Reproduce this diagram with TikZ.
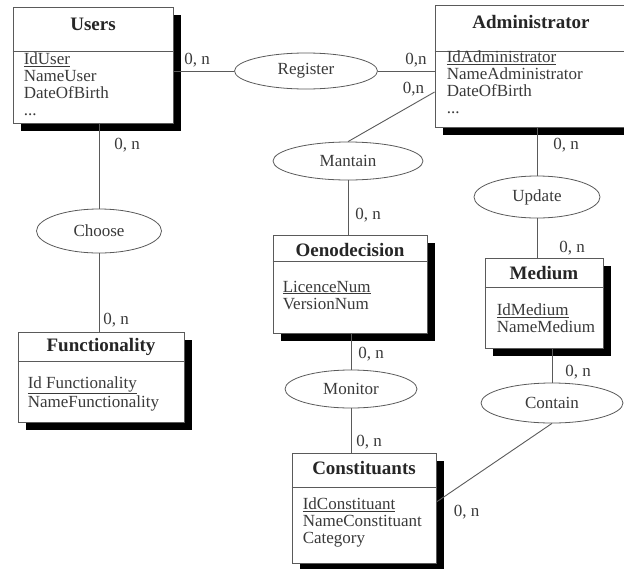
\documentclass[tikz,border=0pt]{standalone}
\usepackage{fontspec}
\setmainfont{Liberation Serif}
\usetikzlibrary{positioning,fit,shapes.geometric,shadows}
\definecolor{ink}{HTML}{3a3a3a}
\definecolor{edge}{HTML}{5a5a5a}

\begin{document}
\begin{tikzpicture}[x=1pt, y=-1pt, font=\fontsize{17}{17}\selectfont, text=ink,
  entity/.style={draw=edge, fill=white, inner sep=0pt, line width=0.8pt,
    drop shadow={shadow xshift=8pt, shadow yshift=-8pt, opacity=1, fill=black}},
  enttitle/.style={font=\fontsize{19}{19}\selectfont\bfseries, inner sep=0pt, text=black!85},
  attrs/.style={anchor=north west, align=left, inner sep=0pt},
  sep/.style={draw=edge, line width=0.8pt},
  rel/.style={ellipse, draw=edge, fill=white, inner sep=0pt, line width=0.8pt},
  card/.style={inner sep=0pt},
  link/.style={draw=edge, line width=0.9pt}]
\useasboundingbox (0,0) rectangle (624,568);
\clip (0,0) rectangle (624,568);

% entities
\node[entity, fit={(13,7) (173,123)}] (users) {};
\node[enttitle] (usersT) at ([yshift=-18pt]users.north) {Users};
\draw[sep] ([yshift=-45pt]users.north west) -- ([yshift=-45pt]users.north east);
\node[attrs] (usersA) at ([xshift=11pt,yshift=-46pt]users.north west) {\underline{IdUser}\\NameUser\\DateOfBirth\\...};

\node[entity, fit={(435,5) (627,127)}] (admin) {};
\node[enttitle] (adminT) at ([yshift=-17pt]admin.north) {Administrator};
\draw[sep] ([yshift=-47pt]admin.north west) -- ([yshift=-47pt]admin.north east);
\node[attrs] (adminA) at ([xshift=12pt,yshift=-46pt]admin.north west) {\underline{IdAdministrator}\\NameAdministrator\\DateOfBirth\\...};

\node[entity, fit={(273,235) (427,333)}] (oeno) {};
\node[enttitle] (oenoT) at ([yshift=-15pt]oeno.north) {Oenodecision};
\draw[sep] ([yshift=-27pt]oeno.north west) -- ([yshift=-27pt]oeno.north east);
\node[attrs] (oenoA) at ([xshift=10pt,yshift=-46pt]oeno.north west) {\underline{LicenceNum}\\VersionNum};

\node[entity, fit={(485,258) (603,348)}] (medium) {};
\node[enttitle] (mediumT) at ([yshift=-15pt]medium.north) {Medium};
\draw[sep] ([yshift=-30pt]medium.north west) -- ([yshift=-30pt]medium.north east);
\node[attrs] (mediumA) at ([xshift=12pt,yshift=-46pt]medium.north west) {\underline{IdMedium}\\NameMedium};

\node[entity, fit={(18,332) (184,422)}] (func) {};
\node[enttitle] (funcT) at ([yshift=-15pt]func.north) {Functionality};
\draw[sep] ([yshift=-30pt]func.north west) -- ([yshift=-30pt]func.north east);
\node[attrs] (funcA) at ([xshift=10pt,yshift=-45pt]func.north west) {\underline{Id Functionality}\\NameFunctionality};

\node[entity, fit={(292,453) (436,563)}] (const) {};
\node[enttitle] (constT) at ([yshift=-15pt]const.north) {Constituants};
\draw[sep] ([yshift=-35pt]const.north west) -- ([yshift=-35pt]const.north east);
\node[attrs] (constA) at ([xshift=11pt,yshift=-45pt]const.north west) {\underline{IdConstituant}\\NameConstituant\\Category};

% relationships
\node[rel, minimum width=143pt, minimum height=36pt] (register) at (306,71) {Register};
\node[rel, minimum width=150pt, minimum height=38pt] (mantain) at (348,161) {Mantain};
\node[rel, minimum width=126pt, minimum height=42pt] (update) at (537,197) {Update};
\node[rel, minimum width=125pt, minimum height=44pt] (choose) at (99,231) {Choose};
\node[rel, minimum width=132pt, minimum height=38pt] (monitor) at (351,389) {Monitor};
\node[rel, minimum width=142pt, minimum height=40pt] (contain) at (552,403) {Contain};

% links
\draw[link] (users.east |- register.west) -- node[card, pos=.39, above=3pt] (c1) {0, n} (register.west);
\draw[link] (register.east) -- node[card, pos=.67, above=3pt] (c2) {0,n} (register.east -| admin.west);
\draw[link] (mantain.north) -- node[card, pos=1, anchor=east, xshift=-10pt, yshift=3pt] (c3) {0,n} ([yshift=-26pt]admin.west);
\draw[link] (users.south -| choose.north) -- node[card, pos=.26, right=15pt] (c4) {0, n} (choose.north);
\draw[link] (choose.south) -- node[card, pos=.85, right=4pt] (c5) {0, n} (choose.south |- func.north);
\draw[link] (mantain.south) -- node[card, pos=.65, right=7pt] (c6) {0, n} (mantain.south |- oeno.north);
\draw[link] (admin.south -| update.north) -- node[card, pos=.37, right=16pt] (c7) {0, n} (update.north);
\draw[link] (update.south) -- node[card, pos=.75, right=22pt] (c8) {0, n} (update.south |- medium.north);
\draw[link] (oeno.south -| monitor.north) -- node[card, pos=.57, right=7pt] (c9) {0, n} (monitor.north);
\draw[link] (monitor.south) -- node[card, pos=.76, right=5pt] (c10) {0, n} (monitor.south |- const.north);
\draw[link] (medium.south -| contain.north) -- node[card, pos=.69, right=13pt] (c11) {0, n} (contain.north);
\draw[link] (contain.south) -- node[card, pos=1, anchor=north west, xshift=17pt, yshift=-3pt] (c12) {0, n} ([yshift=6pt]const.east);
\end{tikzpicture}
\end{document}
